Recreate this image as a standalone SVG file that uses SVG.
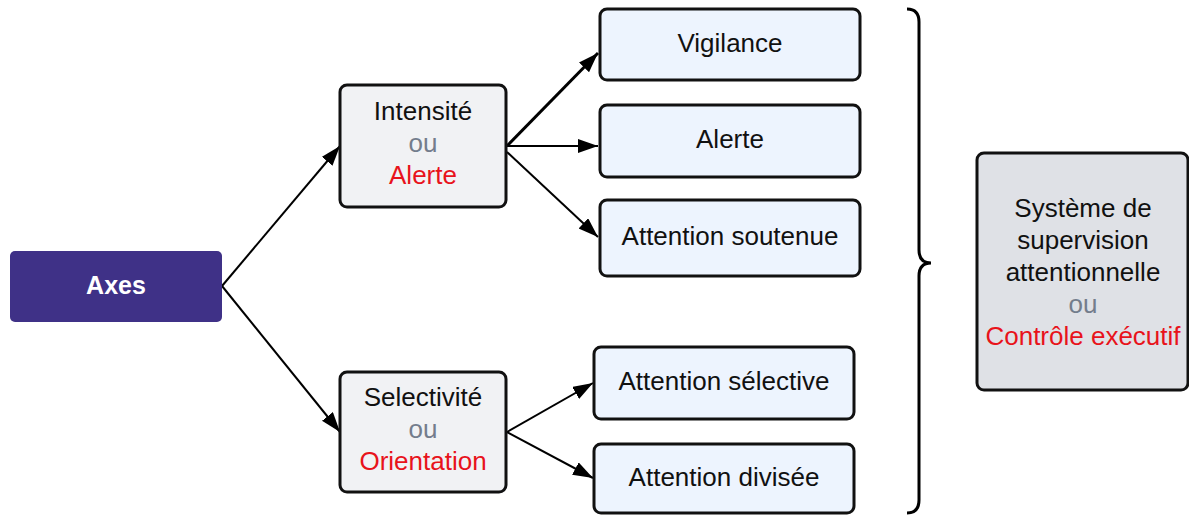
<svg xmlns="http://www.w3.org/2000/svg" width="1189" height="515" viewBox="0 0 1189 515">
<defs>
<style>
text{font-family:"Liberation Sans",Arial,sans-serif;font-size:26px;text-anchor:middle;fill:#111}
.box{stroke:#111;stroke-width:3}
.mid{fill:#f1f2f4}
.leaf{fill:#edf4fe}
.big{fill:#dfe1e6}
.ou{fill:#747d8c}
.red{fill:#e8131b}
.edge{stroke:#000;stroke-width:2;fill:none;marker-end:url(#ah)}
</style>
<marker id="ah" markerUnits="userSpaceOnUse" markerWidth="21" markerHeight="16" refX="20" refY="7" orient="auto">
<path d="M0,0 L20,7 L0,14 Z" fill="#000"/>
</marker>
</defs>
<rect width="1189" height="515" fill="#fff"/>
<g id="connectors">
<path class="edge" d="M222,286 L340,146"/>
<path class="edge" d="M222,286 L340,432"/>
<path class="edge" style="stroke-width:3" d="M507,146 L598,53"/>
<path class="edge" d="M507,146 L598,146"/>
<path class="edge" d="M507,152 L598,237"/>
<path class="edge" d="M507,432 L593,383"/>
<path class="edge" d="M507,432 L593,478"/>
<path d="M907,9 Q919,9 919,22 L919,250 Q919,263 931,263 Q919,263 919,276 L919,500 Q919,513 907,513" fill="none" stroke="#000" stroke-width="3"/>
</g>
<g id="axes">
<rect x="10" y="251" width="212" height="71" rx="5" fill="#3f3187"/>
<text x="116" y="294" style="fill:#fff;font-weight:bold;font-size:25px">Axes</text>
</g>
<g id="intensite">
<rect class="box mid" x="340" y="85" width="166" height="122" rx="7"/>
<text x="423" y="120">Intensité</text>
<text x="423" y="152" class="ou">ou</text>
<text x="423" y="184" class="red">Alerte</text>
</g>
<g id="selectivite">
<rect class="box mid" x="340" y="372" width="166" height="120" rx="7"/>
<text x="423" y="406">Selectivité</text>
<text x="423" y="438" class="ou">ou</text>
<text x="423" y="470" class="red">Orientation</text>
</g>
<g id="vigilance">
<rect class="box leaf" x="600" y="9" width="260" height="71" rx="7"/>
<text x="730" y="52">Vigilance</text>
</g>
<g id="alerte">
<rect class="box leaf" x="600" y="105" width="260" height="72" rx="7"/>
<text x="730" y="148">Alerte</text>
</g>
<g id="soutenue">
<rect class="box leaf" x="600" y="200" width="260" height="76" rx="7"/>
<text x="730" y="245">Attention soutenue</text>
</g>
<g id="selective">
<rect class="box leaf" x="594" y="347" width="260" height="72" rx="7"/>
<text x="724" y="390">Attention sélective</text>
</g>
<g id="divisee">
<rect class="box leaf" x="594" y="444" width="260" height="69" rx="7"/>
<text x="724" y="486">Attention divisée</text>
</g>
<g id="supervision">
<rect class="box big" x="977" y="153" width="211" height="237" rx="7"/>
<text x="1083" y="217">Système de</text>
<text x="1083" y="249">supervision</text>
<text x="1083" y="281">attentionnelle</text>
<text x="1083" y="313" class="ou">ou</text>
<text x="1083" y="345" class="red">Contrôle exécutif</text>
</g>
</svg>
